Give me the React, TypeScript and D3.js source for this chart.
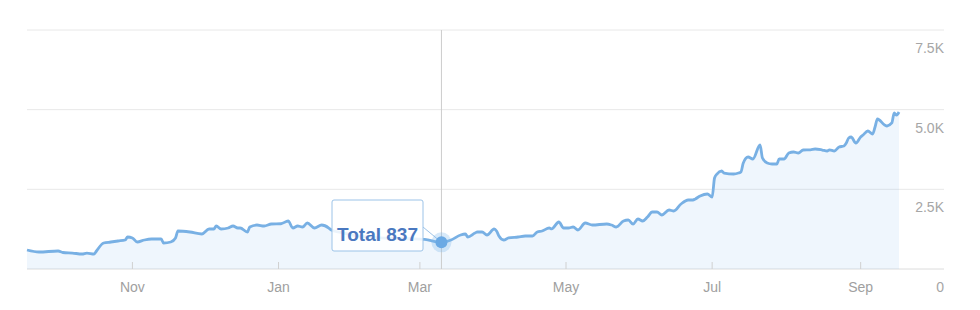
import React from "react";
import * as d3 from "d3";

const dates: string[] = [
  "2022-09-18","2022-09-23","2022-10-01","2022-10-03","2022-10-07","2022-10-11","2022-10-13","2022-10-16","2022-10-17","2022-10-20",
  "2022-10-23","2022-10-26","2022-10-29","2022-10-30","2022-11-01","2022-11-03","2022-11-06","2022-11-09","2022-11-13","2022-11-14",
  "2022-11-17","2022-11-19","2022-11-20","2022-11-25","2022-11-30","2022-12-03","2022-12-05","2022-12-06","2022-12-08","2022-12-11",
  "2022-12-13","2022-12-15","2022-12-16","2022-12-19","2022-12-20","2022-12-23","2022-12-26","2022-12-29","2023-01-02","2023-01-05",
  "2023-01-07","2023-01-09","2023-01-11","2023-01-13","2023-01-16","2023-01-19","2023-01-22","2023-01-23","2023-01-27","2023-02-02",
  "2023-02-08","2023-02-17","2023-02-25","2023-03-03","2023-03-10","2023-03-14","2023-03-18","2023-03-20","2023-03-21","2023-03-24",
  "2023-03-25","2023-03-27","2023-03-29","2023-04-01","2023-04-02","2023-04-03","2023-04-05","2023-04-07","2023-04-11","2023-04-14",
  "2023-04-17","2023-04-19","2023-04-21","2023-04-24","2023-04-25","2023-04-28","2023-04-30","2023-05-02","2023-05-04","2023-05-06",
  "2023-05-09","2023-05-12","2023-05-18","2023-05-20","2023-05-22","2023-05-25","2023-05-27","2023-05-29","2023-05-31","2023-06-02",
  "2023-06-04","2023-06-06","2023-06-08","2023-06-10","2023-06-13","2023-06-15","2023-06-18","2023-06-21","2023-06-23","2023-06-24",
  "2023-06-26","2023-06-29","2023-07-01","2023-07-02","2023-07-03","2023-07-05","2023-07-06","2023-07-10","2023-07-12","2023-07-13",
  "2023-07-14","2023-07-16","2023-07-18","2023-07-21","2023-07-22","2023-07-24","2023-07-26","2023-07-28","2023-07-29","2023-07-31",
  "2023-08-02","2023-08-04","2023-08-06","2023-08-08","2023-08-11","2023-08-13","2023-08-16","2023-08-18","2023-08-19","2023-08-21",
  "2023-08-23","2023-08-25","2023-08-26","2023-08-27","2023-08-28","2023-08-30","2023-09-01","2023-09-02","2023-09-04","2023-09-06",
  "2023-09-07","2023-09-08","2023-09-11","2023-09-12","2023-09-14","2023-09-15","2023-09-16","2023-09-17"
];

const totals: number[] = [
  596, 533, 565, 518, 500, 470, 500, 470, 565, 816,
  847, 879, 910, 1004, 973, 847, 910, 941, 941, 816,
  847, 973, 1192, 1161, 1098, 1255, 1255, 1349, 1255, 1286,
  1349, 1286, 1286, 1161, 1318, 1380, 1349, 1412, 1420, 1506,
  1286, 1349, 1318, 1443, 1286, 1380, 1286, 1224, 1150, 1050,
  1000, 960, 950, 930, 837, 910, 1067, 1098, 1004, 1130,
  1161, 1161, 1067, 1255, 1192, 1035, 910, 973, 1004, 1035,
  1035, 1161, 1192, 1286, 1260, 1475, 1286, 1286, 1318, 1224,
  1443, 1380, 1412, 1380, 1318, 1506, 1537, 1412, 1569, 1506,
  1632, 1789, 1789, 1695, 1851, 1820, 2040, 2165, 2165, 2200,
  2291, 2354, 2260, 2856, 2981, 3075, 3012, 2981, 3012, 3044,
  3326, 3514, 3452, 3891, 3483, 3326, 3295, 3295, 3452, 3452,
  3640, 3672, 3640, 3734, 3740, 3766, 3734, 3703, 3740, 3703,
  3828, 3860, 3954, 4111, 4142, 3954, 4142, 4205, 4331, 4237,
  4456, 4707, 4519, 4488, 4582, 4895, 4832, 4927, 4770
];

const xTickDates: string[] = ["2022-11-01", "2023-01-01", "2023-03-01", "2023-05-01", "2023-07-01", "2023-09-01"];
const xTickLabels: string[] = ["Nov", "Jan", "Mar", "May", "Jul", "Sep"];
const yTickValues: number[] = [0, 2500, 5000, 7500];
const yTickLabels: string[] = ["0", "2.5K", "5.0K", "7.5K"];

const hoverDate = "2023-03-10";
const hoverLabel = "Total";

export default function App() {
  const parse = d3.utcParse("%Y-%m-%d");
  const data = dates.map((d, i) => ({ date: parse(d)!, value: totals[i] }));

  const x = d3.scaleUtc()
    .domain([parse(dates[0])!, parse(dates[dates.length - 1])!])
    .range([27, 899]);
  const y = d3.scaleLinear().domain([0, 7500]).range([269, 30]);

  const gridLeft = 27;
  const gridRight = 944;

  const line = d3.line<{ date: Date; value: number }>()
    .x((d) => x(d.date))
    .y((d) => y(d.value))
    .curve(d3.curveMonotoneX);
  const area = d3.area<{ date: Date; value: number }>()
    .x((d) => x(d.date))
    .y0(y(0))
    .y1((d) => y(d.value))
    .curve(d3.curveMonotoneX);

  const hIdx = dates.indexOf(hoverDate);
  const hx = x(data[hIdx].date);
  const hy = y(data[hIdx].value);

  const boxX = 332, boxY = 200, boxW = 91, boxH = 51;

  return (
    <svg width={980} height={310} style={{ position: "absolute", left: 0, top: 0, display: "block" }}
      fontFamily="'Liberation Sans', Arial, sans-serif">
      <rect x={0} y={0} width={980} height={310} fill="#ffffff" />
      {yTickValues.map((v, i) => (
        <g key={v}>
          <line x1={gridLeft} x2={gridRight} y1={y(v)} y2={y(v)}
            stroke={v === 0 ? "#dcdcdc" : "#e8e8e8"} strokeWidth={1} />
          <text x={gridRight} y={y(v) + 23} textAnchor="end" fontSize={14} fill="#a6a6a6">
            {yTickLabels[i]}
          </text>
        </g>
      ))}
      <path d={area(data) || ""} fill="#7cb5ec" fillOpacity={0.12} />
      {xTickDates.map((d, i) => {
        const tx = x(parse(d)!);
        return (
          <g key={d}>
            <line x1={tx} x2={tx} y1={y(0) - 7} y2={y(0)} stroke="#d0d0d0" strokeWidth={1} />
            <text x={tx} y={292} textAnchor="middle" fontSize={14} fill="#a0a0a0">{xTickLabels[i]}</text>
          </g>
        );
      })}
      <line x1={hx} x2={hx} y1={30} y2={y(0)} stroke="#cccccc" strokeWidth={1} />
      <path d={line(data) || ""} fill="none" stroke="#78b0e4" strokeWidth={2.8} strokeLinejoin="round" />
      <line x1={boxX + boxW} y1={boxY + 27} x2={hx} y2={hy} stroke="#9cc3e8" strokeWidth={1} />
      <rect x={boxX} y={boxY} width={boxW} height={boxH} rx={2} fill="#ffffff" fillOpacity={0.85}
        stroke="#9cc3e8" strokeWidth={1} />
      <text x={boxX + boxW / 2} y={241} textAnchor="middle" fontSize={19} fontWeight="bold" fill="#4a78c0">
        {`${hoverLabel} ${data[hIdx].value}`}
      </text>
      <circle cx={hx} cy={hy} r={10} fill="#7cb5ec" fillOpacity={0.3} />
      <circle cx={hx} cy={hy} r={6} fill="#6aa9e4" />
    </svg>
  );
}
